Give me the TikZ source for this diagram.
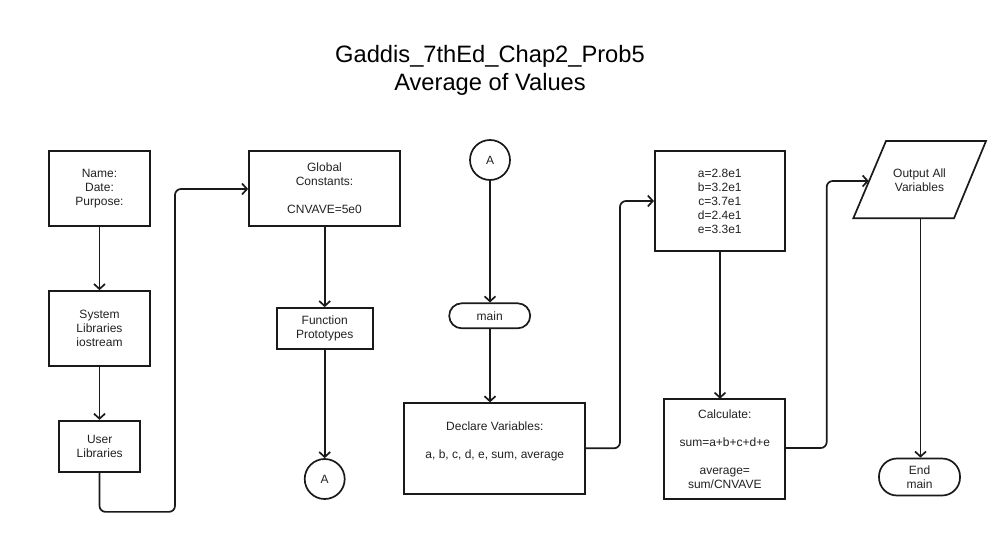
\documentclass[tikz,border=0pt]{standalone}
\usepackage{fontspec}
\setmainfont{Liberation Sans}
\usetikzlibrary{arrows.meta,calc}
\definecolor{ink}{HTML}{1A1A1A}
\definecolor{txtc}{HTML}{222222}
\begin{document}
\begin{tikzpicture}[x=1pt,y=-1pt,
  box/.style={draw=ink, line width=1.7pt, inner sep=0pt, align=center, text=txtc, font=\fontsize{12}{14}\selectfont},
  txt/.style={inner sep=0pt, align=center, text=txtc, font=\fontsize{12}{14}\selectfont},
  conn/.style={draw=ink, line width=1.7pt, -{Straight Barb[length=5pt,width=11pt]}, rounded corners=6pt},
]
\useasboundingbox[fill=white] (0,0) rectangle (995,535);

% title
\node[txt, anchor=base, font=\fontsize{23.7}{28}\selectfont, text=black] (title) at (490,90) {Gaddis\_7thEd\_Chap2\_Prob5\\Average of Values};

% left column
\node[box, minimum width=101pt, minimum height=75pt] (name) at (99.5,188.5) {Name:\\Date:\\Purpose:};
\node[box, minimum width=101pt, minimum height=75pt] (sys) at (99.5,328.5) {System\\Libraries\\iostream};
\node[box, minimum width=81pt, minimum height=51pt] (user) at (99.7,446.2) {User\\Libraries};

% second column
\node[box, minimum width=151pt, minimum height=75pt] (glob) at (324.5,188.5) {Global\\Constants:\\[14pt]CNVAVE=5e0};
\node[box, minimum width=96pt, minimum height=41pt] (func) at (324.7,328.5) {Function\\Prototypes};
\node[box, circle, minimum size=40pt] (A1) at (324.7,479) {A};

% third column
\node[box, circle, minimum size=40pt] (A2) at (490,160) {A};
\node[box, rounded corners=12.5pt, minimum width=81pt, minimum height=25pt] (main) at (489.7,315.8) {main};
\node[box, minimum width=181pt, minimum height=91pt] (decl) at (494.8,448.7) {};
\node[txt] (declT) at (494.8,441.5) {Declare Variables:\\[14pt]a, b, c, d, e, sum, average};

% fourth column
\node[box, minimum width=130pt, minimum height=100pt] (vals) at (719.8,201) {a=2.8e1\\b=3.2e1\\c=3.7e1\\d=2.4e1\\e=3.3e1};
\node[box, minimum width=121pt, minimum height=100.6pt] (calc) at (724.8,449) {Calculate:\\[14pt]sum=a+b+c+d+e\\[14pt]average=\\sum/CNVAVE};

% fifth column
\draw[draw=ink, line width=1.7pt, line join=miter] (886,141) -- (986,141) -- (954,218.3) -- (853.3,218.3) -- cycle;
\node[txt] (out) at (919.5,180) {Output All\\Variables};
\coordinate (outL) at (868.8,181);
\coordinate (outB) at (920.5,218.3);
\node[box, rounded corners=18pt, minimum width=81pt, minimum height=37pt] (endm) at (919.5,477) {End\\main};

% connectors
\draw[conn] (name.south) -- (sys.north);
\draw[conn] (sys.south) -- (user.north -| sys.south);
\draw[conn] (user.south -| sys.south) -- ++(0,39.3) -| (175,189) -- (glob.west |- 0,189);
\draw[conn] (glob.south -| func.north) -- (func.north);
\draw[conn] (func.south) -- (A1.north);
\draw[conn] (A2.south) -- (A2.south |- main.north);
\draw[conn] (main.south -| A2.south) -- (A2.south |- decl.north);
\draw[conn] (decl.east |- 0,448.3) -| (620,201) -- (vals.west |- 0,201);
\draw[conn] (720,251) -- (720,398.7);
\draw[conn] (calc.east |- 0,448) -| (826.7,181) -- (outL);
\draw[conn] (outB) -- (outB |- endm.north);
\end{tikzpicture}
\end{document}
